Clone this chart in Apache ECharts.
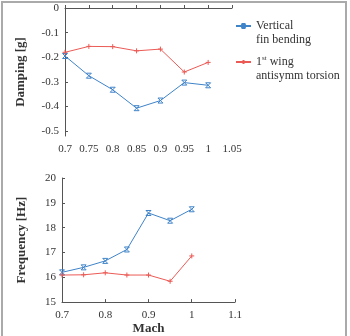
<!DOCTYPE html>
<html>
<head>
<meta charset="utf-8">
<script src="https://cdn.jsdelivr.net/npm/echarts@6/dist/echarts.min.js"></script>
<style>
  html, body { margin: 0; padding: 0; background: #fff; }
  #chart { width: 350px; height: 336px; }
</style>
</head>
<body>
<div id="chart"></div>
<script>
// 数据
const machTop = [0.7, 0.75, 0.8, 0.85, 0.9, 0.95, 1.0];
const dampFin = [-0.195, -0.275, -0.332, -0.407, -0.376, -0.303, -0.314];
const dampWing = [-0.18, -0.156, -0.157, -0.174, -0.167, -0.26, -0.221];
const dampTicks = [-0.5, -0.4, -0.3, -0.2, -0.1, 0];

const machBottom = [0.7, 0.75, 0.8, 0.85, 0.9, 0.95, 1.0];
const freqFin = [16.2, 16.4, 16.66, 17.12, 18.59, 18.28, 18.74];
const freqWing = [16.09, 16.1, 16.18, 16.09, 16.09, 15.84, 16.86];

const nameFin = 'Vertical fin bending';
const nameWing = '1st wing antisymm torsion';

const blue = '#3f83c9';
const red = '#eb5a55';
const font = '"Liberation Serif", "DejaVu Serif", serif';

// 标记形状
const crossX = 'path://M0,0L10,10M10,0L0,10M0,0L10,0M0,10L10,10';
const plus = 'path://M5,0L5,10M0,5L10,5';

function pairs(xs, ys) {
    return xs.map((x, i) => [x, ys[i]]);
}

function axisCommon() {
    return {
        axisLine: { lineStyle: { color: '#555', width: 1 } },
        axisTick: { inside: true, length: 3, lineStyle: { color: '#555' } },
        axisLabel: { color: '#333', fontFamily: font, fontSize: 11 },
        splitLine: { show: false }
    };
}

function lineSeries(name, data, color, symbol, xi, yi) {
    return {
        name: name,
        type: 'line',
        xAxisIndex: xi,
        yAxisIndex: yi,
        data: data,
        symbol: symbol,
        symbolSize: 5,
        lineStyle: { color: color, width: 1 },
        itemStyle: { color: color, borderColor: color, borderWidth: 1 },
        emphasis: { disabled: true },
        animation: false
    };
}

function legendFor(name, top) {
    return {
        data: [name],
        orient: 'vertical',
        left: 235,
        top: top,
        padding: 0,
        itemWidth: 15,
        itemHeight: 5,
        formatter: function (n) {
            if (n === nameFin) return 'Vertical\nfin bending';
            return '1{sup|st} wing\nantisymm torsion';
        },
        textStyle: {
            fontFamily: font,
            fontSize: 12,
            lineHeight: 14,
            color: '#333',
            padding: [14, 0, 0, 0],
            rich: {
                sup: { fontFamily: font, fontSize: 7, lineHeight: 14, verticalAlign: 'top', padding: [0, 0, 5, 0] }
            }
        }
    };
}

let myChart = echarts.init(document.getElementById('chart'));

const xTop = Object.assign(axisCommon(), {
    type: 'value', gridIndex: 0, min: 0.7, max: 1.05, interval: 0.05
});
const yTop = Object.assign(axisCommon(), {
    type: 'value', gridIndex: 0, min: -0.52, max: 0,
    name: 'Damping [g]', nameLocation: 'middle', nameGap: 38,
    nameTextStyle: { fontFamily: font, fontSize: 13, fontWeight: 'bold', color: '#333' }
});
yTop.axisLabel = Object.assign({}, yTop.axisLabel, { margin: 6, customValues: dampTicks });
yTop.axisTick = Object.assign({}, yTop.axisTick, { customValues: dampTicks });

const xBottom = Object.assign(axisCommon(), {
    type: 'value', gridIndex: 1, min: 0.7, max: 1.1, interval: 0.1,
    name: 'Mach', nameLocation: 'middle', nameGap: 16,
    nameTextStyle: { fontFamily: font, fontSize: 13, fontWeight: 'bold', color: '#333' }
});
const yBottom = Object.assign(axisCommon(), {
    type: 'value', gridIndex: 1, min: 15, max: 20, interval: 1,
    name: 'Frequency [Hz]', nameLocation: 'middle', nameGap: 34,
    nameTextStyle: { fontFamily: font, fontSize: 13, fontWeight: 'bold', color: '#333' }
});
yBottom.axisLabel = Object.assign({}, yBottom.axisLabel, { margin: 6 });

myChart.setOption({
    animation: false,
    grid: [
        { left: 65, top: 8, width: 167, height: 128 },
        { left: 62, top: 178, width: 173, height: 127 }
    ],
    legend: [legendFor(nameFin, 5), legendFor(nameWing, 41)],
    xAxis: [xTop, xBottom],
    yAxis: [yTop, yBottom],
    series: [
        lineSeries(nameFin, pairs(machTop, dampFin), blue, crossX, 0, 0),
        lineSeries(nameWing, pairs(machTop, dampWing), red, plus, 0, 0),
        lineSeries(nameFin, pairs(machBottom, freqFin), blue, crossX, 1, 1),
        lineSeries(nameWing, pairs(machBottom, freqWing), red, plus, 1, 1)
    ],
    // 外框
    graphic: [{
        type: 'rect',
        shape: { x: 2, y: 2, width: 344, height: 345 },
        style: { fill: 'none', stroke: '#aaa', lineWidth: 2 },
        silent: true
    }]
});
</script>
</body>
</html>
